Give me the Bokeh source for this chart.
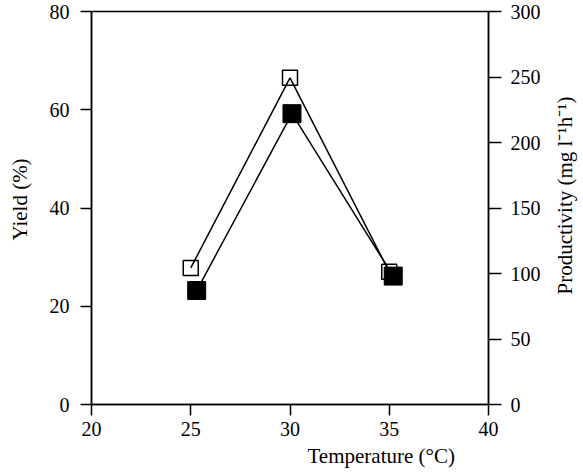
import math
from bokeh.plotting import figure
from bokeh.models import Range1d, LinearAxis, FixedTicker, Title, Label
from bokeh.embed import file_html
from bokeh.resources import INLINE

# Data
yield_temp = [25.0, 30.0, 35.0]
yield_pct = [27.8, 66.5, 27.0]
prod_temp = [25.3, 30.1, 35.2]
productivity = [87.0, 222.0, 98.0]

x_ticks = [20, 25, 30, 35, 40]
y_ticks = [0, 20, 40, 60, 80]
y2_ticks = [0, 50, 100, 150, 200, 250, 300]

FONT = "Liberation Serif"
TICK_FS = "20px"
LAB_FS = "21px"

p = figure(width=583, height=476, output_backend="svg", toolbar_location=None,
           x_range=Range1d(20, 40), y_range=Range1d(0, 80),
           min_border_left=91, min_border_right=95, min_border_top=11, min_border_bottom=72)
p.extra_y_ranges = {"prod": Range1d(0, 300)}

p.xgrid.visible = False
p.ygrid.visible = False
p.outline_line_color = "black"
p.outline_line_width = 1.5
p.background_fill_color = "white"
p.border_fill_color = "white"

def style(ax, ticks, tick_len, standoff):
    ax.ticker = FixedTicker(ticks=ticks)
    ax.minor_tick_line_color = None
    ax.major_tick_in = 0
    ax.major_tick_out = tick_len
    ax.major_tick_line_width = 1.5
    ax.major_tick_line_color = "black"
    ax.axis_line_width = 1.5
    ax.axis_line_color = "black"
    ax.major_label_text_font = FONT
    ax.major_label_text_font_size = TICK_FS
    ax.major_label_text_color = "black"
    ax.major_label_standoff = standoff

style(p.xaxis[0], x_ticks, 11, 6)
style(p.yaxis[0], y_ticks, 11, 11)

ax2 = LinearAxis(y_range_name="prod")
style(ax2, y2_ticks, 13, 9)
p.add_layout(ax2, "right")

p.line(yield_temp, yield_pct, line_color="black", line_width=1.5)
p.line(prod_temp, productivity, line_color="black", line_width=1.5, y_range_name="prod")
p.scatter(yield_temp, yield_pct, marker="square", size=15, fill_color=None,
          line_color="black", line_width=1.5)
p.scatter(prod_temp, productivity, marker="square", size=18, fill_color="black",
          line_color="black", line_width=1, y_range_name="prod")

xlab = Title(text="Temperature (\u00b0C)", align="left", offset=216, standoff=6,
             text_font=FONT, text_font_size=LAB_FS, text_font_style="normal",
             text_color="black")
p.add_layout(xlab, "below")

ylab = Label(x=-3, y=205, x_units="screen", y_units="screen",
             text="Yield (%)", angle=math.pi / 2,
             text_align="center", text_baseline="middle", text_font=FONT,
             text_font_size=LAB_FS, text_color="black")
p.add_layout(ylab, "left")

ylab2 = Label(x=21, y=209, x_units="screen", y_units="screen",
              text="Productivity (mg l\u207b\u00b9h\u207b\u00b9)", angle=math.pi / 2,
              text_align="center", text_baseline="middle", text_font=FONT,
              text_font_size=LAB_FS, text_color="black")
p.add_layout(ylab2, "right")

open("out.html", "w").write(file_html(p, INLINE))
